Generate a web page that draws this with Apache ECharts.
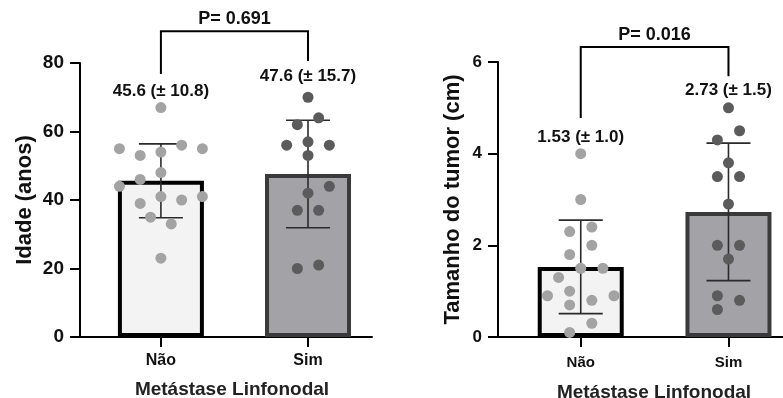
<!DOCTYPE html>
<html>
<head>
<meta charset="utf-8">
<script src="https://cdn.jsdelivr.net/npm/echarts@6/dist/echarts.min.js"></script>
<style>
  html, body { margin: 0; padding: 0; background: #fff; }
  #chart { width: 783px; height: 398px; }
</style>
</head>
<body>
<div id="chart"></div>
<script>
// groups
const categories = ['Não', 'Sim'];

// idade (anos)
const ageMean = [45.6, 47.6];
const ageSd = [10.8, 15.7];
const ageNao = [67, 55, 53, 54, 56, 55, 48, 46, 44, 41, 40, 41, 39, 35, 33, 23];
const ageNaoCol = [0, -4, -2, 0, 2, 4, 0, -2, -4, 0, 2, 4, -2, -1, 1, 0];
const ageSim = [70, 62, 64, 56, 57, 56, 53, 44, 42, 37, 37, 20, 21];
const ageSimCol = [0, -1, 1, -2, 0, 2, 0, 2, 0, -1, 1, -1, 1];

// tamanho do tumor (cm)
const tumorMean = [1.53, 2.73];
const tumorSd = [1.02, 1.5];
const tumorNao = [4.0, 3.0, 2.3, 2.4, 2.0, 1.8, 1.5, 1.5, 1.3, 0.9, 1.0, 0.9, 0.8, 0.7, 0.3, 0.1];
const tumorNaoCol = [0, 0, -1, 1, 1, -1, 0, 2, -2, -3, -1, 3, 1, -1, 1, -1];
const tumorSim = [5.0, 4.5, 4.3, 3.8, 3.5, 3.5, 2.9, 2.0, 2.0, 1.7, 0.9, 0.8, 0.6];
const tumorSimCol = [0, 1, -1, 0, -1, 1, 0, -1, 1, 0, -1, 1, -1];

const meanLabels = [['45.6 (± 10.8)', '47.6 (± 15.7)'], ['1.53 (± 1.0)', '2.73 (± 1.5)']];
const pValues = ['P= 0.691', 'P= 0.016'];

const FONT = "'Liberation Sans', Arial, sans-serif";
const INK = '#111';
const barFill = ['#f3f3f3', '#a3a3a7'];
const barEdge = ['#000', '#3a3a3a'];
const dotColor = ['#a3a3a3', '#5b5b5b'];

const myChart = echarts.init(document.getElementById('chart'));

function xAxisFor(grid, min, max, gapPad, labMargin, nameGap, labSize) {
  return {
    type: 'value', gridIndex: grid, min: min, max: max,
    splitLine: { show: false },
    axisLine: { onZero: false, lineStyle: { color: '#000', width: 2 } },
    axisTick: { customValues: [0, 1], length: 10, lineStyle: { color: '#000', width: 2 } },
    axisLabel: {
      customValues: [0, 1], margin: labMargin,
      formatter: v => categories[Math.round(v)],
      fontFamily: FONT, fontWeight: 'bold', fontSize: labSize, color: INK
    },
    name: 'Metástase Linfonodal', nameLocation: 'middle', nameGap: nameGap,
    nameTextStyle: { fontFamily: FONT, fontWeight: 'bold', fontSize: 19, color: '#222', padding: [0, 0, 0, gapPad] }
  };
}

function yAxisFor(grid, max, interval, name, gap, fs) {
  return {
    type: 'value', gridIndex: grid, min: 0, max: max, interval: interval,
    splitLine: { show: false },
    axisLine: { show: true, onZero: false, lineStyle: { color: '#000', width: 2 } },
    axisTick: { show: true, length: 10, lineStyle: { color: '#000', width: 2 } },
    axisLabel: { margin: 16, fontFamily: FONT, fontWeight: 'bold', fontSize: fs, color: INK },
    name: name, nameLocation: 'middle', nameRotate: 90, nameGap: gap,
    nameTextStyle: { fontFamily: FONT, fontWeight: 'bold', fontSize: 22, lineHeight: 22, color: INK }
  };
}

function barSeries(grid, means) {
  return {
    type: 'bar', xAxisIndex: grid, yAxisIndex: grid, barWidth: 86, z: 2,
    data: means.map((m, i) => ({
      value: [i, m],
      itemStyle: { color: barFill[i], borderColor: barEdge[i], borderWidth: 4 }
    }))
  };
}

function errSeries(grid, means, sds) {
  return {
    type: 'custom', xAxisIndex: grid, yAxisIndex: grid, z: 3, clip: false,
    data: means.map((m, i) => [i, m - sds[i], m + sds[i]]),
    renderItem: function (params, api) {
      const lo = api.coord([api.value(0), api.value(1)]);
      const hi = api.coord([api.value(0), api.value(2)]);
      const w = 22;
      const st = { stroke: '#2a2a2a', lineWidth: 1.6 };
      return {
        type: 'group', children: [
          { type: 'line', shape: { x1: hi[0], y1: hi[1], x2: lo[0], y2: lo[1] }, style: st },
          { type: 'line', shape: { x1: hi[0] - w, y1: hi[1], x2: hi[0] + w, y2: hi[1] }, style: st },
          { type: 'line', shape: { x1: lo[0] - w, y1: lo[1], x2: lo[0] + w, y2: lo[1] }, style: st }
        ]
      };
    }
  };
}

function dotSeries(grid, cat, vals, cols, step) {
  return {
    type: 'scatter', xAxisIndex: grid, yAxisIndex: grid, z: 4,
    symbolSize: 11,
    itemStyle: { color: dotColor[cat], opacity: 1 },
    data: vals.map((v, i) => [cat + cols[i] * step, v])
  };
}

// bracket + p value + mean labels, placed in data units of each panel
function noteSeries(grid, lay) {
  return {
    type: 'custom', xAxisIndex: grid, yAxisIndex: grid, z: 5, clip: false,
    data: [[0]],
    renderItem: function (params, api) {
      const a = api.coord([0, lay.left]);
      const b = api.coord([0, lay.top]);
      const c = api.coord([1, lay.top]);
      const d = api.coord([1, lay.right]);
      const p = api.coord([0.5, lay.p]);
      const m0 = api.coord([0, lay.m[0]]);
      const m1 = api.coord([1, lay.m[1]]);
      const txt = (pt, s, fs) => ({
        type: 'text', x: pt[0], y: pt[1],
        style: { text: s, fill: INK, font: 'bold ' + fs + 'px ' + FONT, align: 'center', verticalAlign: 'middle' }
      });
      return {
        type: 'group', children: [
          { type: 'polyline', shape: { points: [a, b, c, d] }, style: { stroke: '#000', lineWidth: 2, fill: null } },
          txt(p, pValues[grid], 18),
          txt(m0, meanLabels[grid][0], 17),
          txt(m1, meanLabels[grid][1], 17)
        ]
      };
    }
  };
}

const option = {
  animation: false,
  grid: [
    { left: 80, top: 63, width: 292, height: 274, outerBoundsMode: 'none' },
    { left: 498, top: 62, width: 294, height: 275, outerBoundsMode: 'none' }
  ],
  xAxis: [
    xAxisFor(0, -0.55, 1.435, 12, 16, 43, 16),
    xAxisFor(1, -0.56, 1.43, 18, 18, 46, 15)
  ],
  yAxis: [
    yAxisFor(0, 80, 20, 'Idade (anos)', 44, 19),
    yAxisFor(1, 6, 2, 'Tamanho do tumor (cm)', 34, 17)
  ],
  series: [
    barSeries(0, ageMean),
    errSeries(0, ageMean, ageSd),
    dotSeries(0, 0, ageNao, ageNaoCol, 0.0705),
    dotSeries(0, 1, ageSim, ageSimCol, 0.0725),
    noteSeries(0, { left: 76.8, right: 80.6, top: 89.3, p: 92.8, m: [71.8, 76.2] }),

    barSeries(1, tumorMean),
    errSeries(1, tumorMean, tumorSd),
    dotSeries(1, 0, tumorNao, tumorNaoCol, 0.075),
    dotSeries(1, 1, tumorSim, tumorSimCol, 0.075),
    noteSeries(1, { left: 4.78, right: 5.69, top: 6.33, p: 6.59, m: [4.36, 5.39] })
  ]
};

myChart.setOption(option);
</script>
</body>
</html>
